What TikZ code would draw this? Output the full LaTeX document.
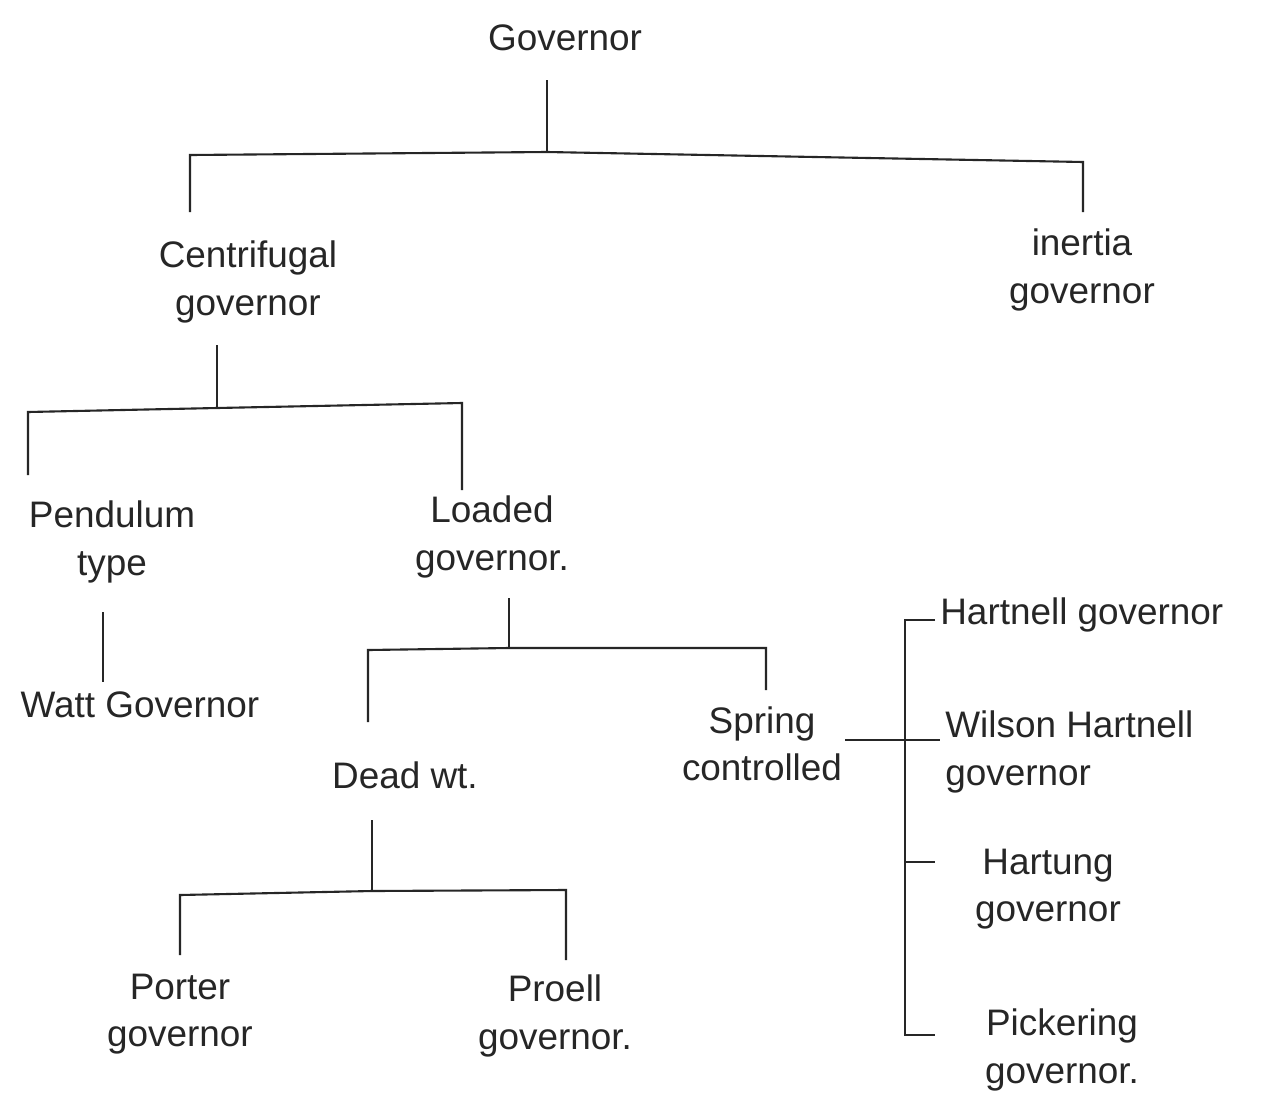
\documentclass[tikz,border=0pt]{standalone}
\usepackage{fontspec}
\setmainfont{Liberation Sans}
\begin{document}
\begin{tikzpicture}[x=0.02cm,y=-0.02cm,
  lbl/.style={inner sep=0pt,align=center,text=black!85,font=\fontsize{21}{27}\selectfont},
  ln/.style={draw=black!85,line width=1.2pt}]
\useasboundingbox[fill=white] (0,0) rectangle (1285,1096);
% labels
\node[lbl] (gov) at (565,38) {Governor};
\node[lbl] (cen) at (248,282) {Centrifugal\\governor};
\node[lbl] (ine) at (1082,270) {inertia\\governor};
\node[lbl] (pen) at (112,542) {Pendulum\\type};
\node[lbl] (wat) at (140,705) {Watt Governor};
\node[lbl] (loa) at (492,537) {Loaded\\governor.};
\node[lbl] (dea) at (405,775) {Dead wt.};
\node[lbl] (spr) at (762,744) {Spring\\controlled};
\node[lbl,anchor=west] (har) at (940,615) {Hartnell governor};
\node[lbl,anchor=west,align=left] (wil) at (945,752) {Wilson Hartnell\\governor};
\node[lbl] (hag) at (1048,889) {Hartung\\governor};
\node[lbl] (pic) at (1062,1050) {Pickering\\governor.};
\node[lbl] (por) at (180,1014) {Porter\\governor};
\node[lbl] (pro) at (555,1016) {Proell\\governor.};
% junction coordinates
\coordinate (g0) at (547,80);  \coordinate (g1) at (547,152);
\coordinate (gL) at (190,155); \coordinate (gR) at (1083,162);
\coordinate (gLd) at (190,212); \coordinate (gRd) at (1083,212);
\coordinate (c0) at (217,345); \coordinate (c1) at (217,408);
\coordinate (cL) at (28,412);  \coordinate (cR) at (462,403);
\coordinate (cLd) at (28,475); \coordinate (cRd) at (462,490);
\coordinate (p0) at (103,612); \coordinate (p1) at (103,682);
\coordinate (l0) at (509,598); \coordinate (l1) at (509,648);
\coordinate (lL) at (368,650); \coordinate (lR) at (766,648);
\coordinate (lLd) at (368,722); \coordinate (lRd) at (766,690);
\coordinate (d0) at (372,820); \coordinate (d1) at (372,891);
\coordinate (dL) at (180,895); \coordinate (dR) at (566,890);
\coordinate (dLd) at (180,955); \coordinate (dRd) at (566,960);
\coordinate (s0) at (845,740); \coordinate (s1) at (905,740);
\coordinate (bT) at (905,620); \coordinate (bB) at (905,1035);
\coordinate (t1) at (935,620); \coordinate (t2) at (940,740);
\coordinate (b3) at (905,862); \coordinate (t3) at (935,862);
\coordinate (t4) at (935,1035);
% connectors
\draw[ln] (g0) -- (g1);
\draw[ln] (gLd) -- (gL) -- (g1) -- (gR) -- (gRd);
\draw[ln] (c0) -- (c1);
\draw[ln] (cLd) -- (cL) -- (c1) -- (cR) -- (cRd);
\draw[ln] (p0) -- (p1);
\draw[ln] (l0) -- (l1);
\draw[ln] (lLd) -- (lL) -- (l1) -- (lR) -- (lRd);
\draw[ln] (d0) -- (d1);
\draw[ln] (dLd) -- (dL) -- (d1) -- (dR) -- (dRd);
\draw[ln] (s0) -- (s1) -- (t2);
\draw[ln] (t1) -- (bT) -- (bB) -- (t4);
\draw[ln] (b3) -- (t3);
\end{tikzpicture}
\end{document}
